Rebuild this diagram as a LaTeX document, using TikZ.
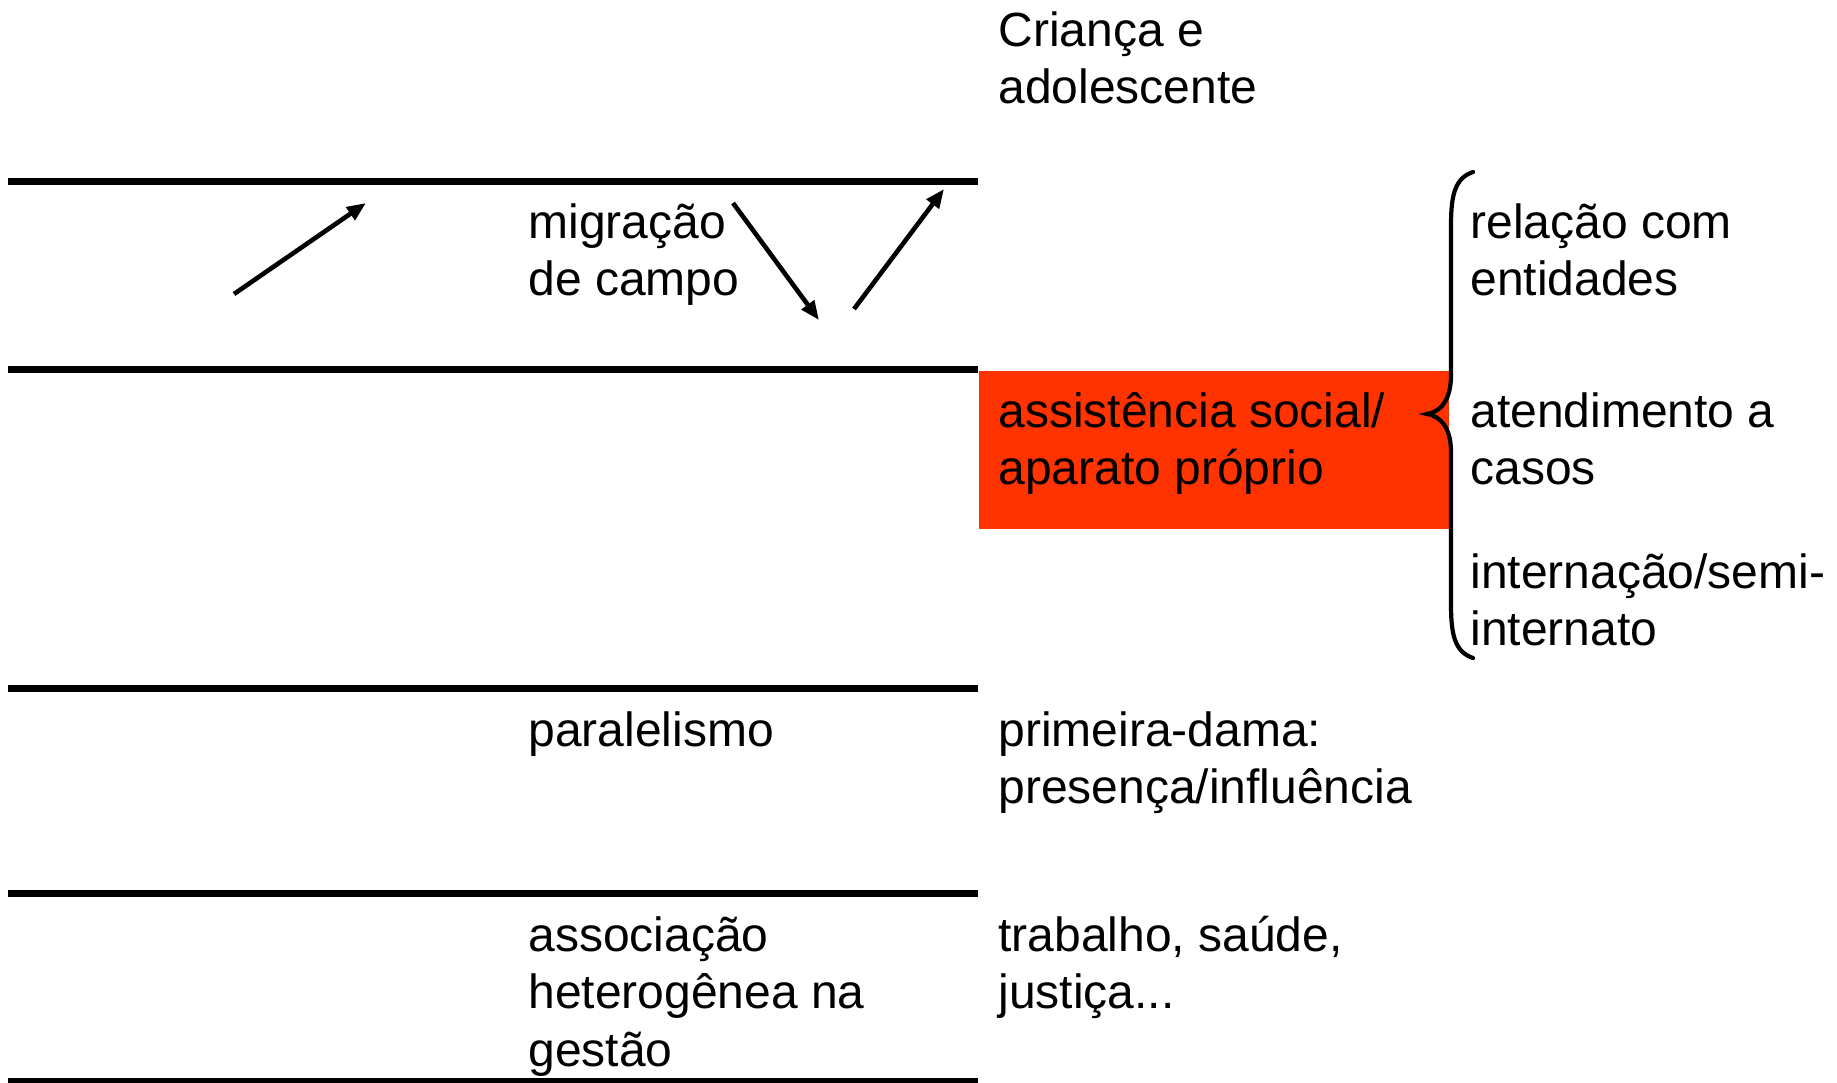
\documentclass[tikz,border=0pt]{standalone}
\usepackage{fontspec}
\setmainfont{Liberation Sans}
\usetikzlibrary{arrows.meta}
\definecolor{boxred}{RGB}{255,51,0}
\tikzset{
  rule/.style={line width=3.5pt},
  txt/.style={anchor=base west, align=left, inner sep=0pt, font=\fontsize{24}{28.75}\selectfont},
  arr/.style={line width=2.3pt, -{Triangle[length=9.5pt,width=7.5pt]}},
  brace/.style={line width=2.1pt, line cap=round}
}
\begin{document}
\begin{tikzpicture}[x=0.5pt,y=-0.5pt]
\useasboundingbox (0,0) rectangle (1837,1082);
% horizontal rules
\draw[rule] (8,181) -- (978,181);
\draw[rule] (8,369) -- (978,369);
\draw[rule] (8,688) -- (978,688);
\draw[rule] (8,893) -- (978,893);
\draw[rule] (8,1081) -- (978,1081);
% red box
\node[fill=boxred, inner sep=0pt, minimum width=235pt, minimum height=79pt, anchor=north west] (box) at (979,371) {};
% texts (anchored at the baseline of the last line)
\node[txt] (crianca) at (998,103.5) {Criança e\\adolescente};
\node[txt] (migracao) at (528,295.5) {migração\\de campo};
\node[txt] (relacao) at (1470,295.5) {relação com\\entidades};
\node[txt] (assist) at (998,484.5) {assistência social/\\aparato próprio};
\node[txt] (atend) at (1470,484.5) {atendimento a\\casos};
\node[txt] (intern) at (1470,645.5) {internação/semi-\\internato};
\node[txt] (paral) at (528,746) {paralelismo};
\node[txt] (primeira) at (998,803.5) {primeira-dama:\\presença/influência};
\node[txt] (assoc) at (528,1066) {associação\\heterogênea na\\gestão};
\node[txt] (trab) at (998,1008.5) {trabalho, saúde,\\justiça...};
% arrows
\coordinate (a1s) at (234,294); \coordinate (a1e) at (366,203);
\coordinate (a2s) at (733,203); \coordinate (a2e) at (819,320);
\coordinate (a3s) at (854,309); \coordinate (a3e) at (944,189);
\draw[arr] (a1s) -- (a1e);
\draw[arr] (a2s) -- (a2e);
\draw[arr] (a3s) -- (a3e);
% brace
\coordinate (btop) at (1473,172);
\coordinate (btip) at (1427,414);
\coordinate (bbot) at (1473,658);
\draw[brace] (btop) .. controls (1455,178) and (1451,195) .. (1451,225)
  -- (1451,375) .. controls (1451,401) and (1440,412) .. (btip)
  .. controls (1440,416) and (1451,427) .. (1451,452)
  -- (1451,605) .. controls (1451,635) and (1455,652) .. (bbot);
\end{tikzpicture}
\end{document}
